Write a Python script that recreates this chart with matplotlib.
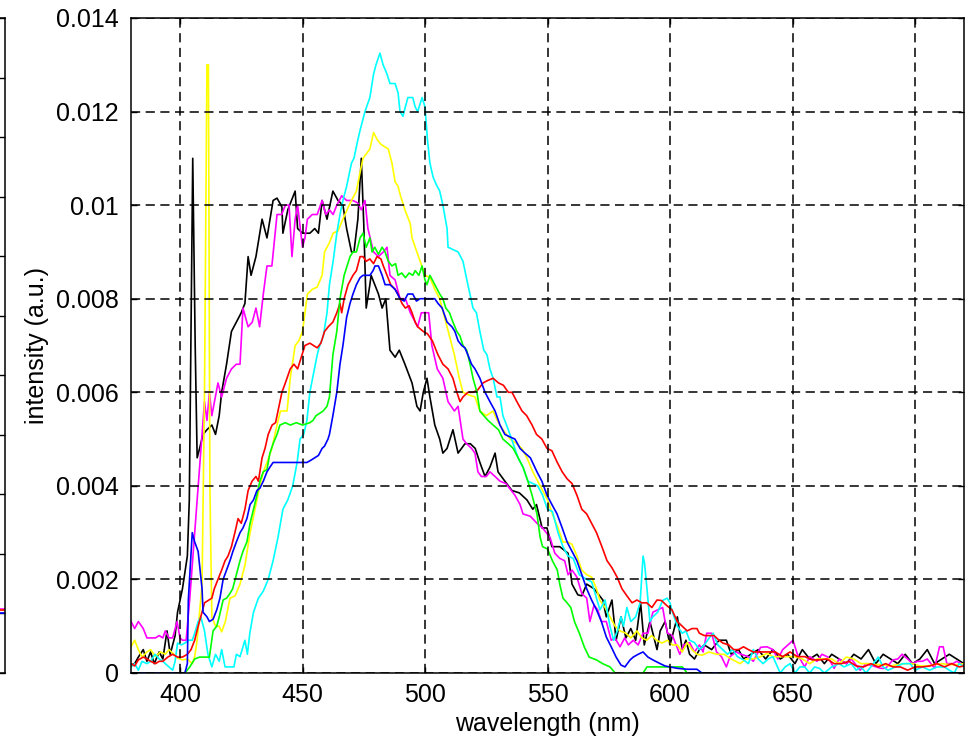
import numpy as np
import matplotlib
matplotlib.use("Agg")
import matplotlib.pyplot as plt

plt.rcParams["font.family"] = ["Liberation Sans", "DejaVu Sans"]

# ------------------------------------------------------------------
# Spectra (wavelength in nm, intensity in 1e-3 a.u.)
# ------------------------------------------------------------------
black_nm = [380, 381.5, 383, 385, 386.5, 388, 389.5, 391.5, 393, 394.7, 396, 398, 399, 401, 403,
            403.8, 405.2, 406.2, 407, 408, 409.4, 411, 413, 414.5, 416, 417, 419, 421, 423, 425,
            426.5, 427.8, 429, 431, 433.5, 435.5, 438, 439.6, 441.6, 442, 444, 447, 448, 450, 453,
            455, 456.5, 458, 460, 462.4, 464.5, 466.5, 468, 470, 471, 472.6, 474, 475, 476, 477.5,
            478, 481, 482.5, 484, 485.7, 487.8, 489.5, 491.8, 494.7, 496.7, 498, 499.3, 500.8,
            502, 504, 506, 507.3, 509, 511.4, 513.5, 516.3, 518.5, 520.5, 522.4, 524.5, 526.5,
            528.6, 529.8, 532.6, 535.5, 538.5, 541.6, 544, 545.5, 547.8, 549.8, 551.8, 555,
            558.4, 560, 562.4, 564, 566, 569, 572.6, 574, 576.3, 578, 580, 582, 584, 586, 588,
            589.5, 591.8, 594.7, 596, 598, 600, 603, 605, 606.5, 608, 610, 612, 614, 617, 620,
            623, 625, 628, 630, 633, 636, 639, 642, 645, 648, 651, 654, 657, 660, 663, 666, 669,
            672, 675, 678, 681, 684, 687, 690, 693, 696, 699, 702, 705, 708, 711, 714, 717, 720]
black_int = [0.17, 0.2, 0.34, 0.5, 0.25, 0.45, 0.2, 0.45, 0.3, 0.9, 0.4, 0.8, 1.3, 1.8, 2.5,
             3.7, 11.0, 7.0, 4.6, 4.8, 5.1, 5.2, 5.3, 5.1, 5.5, 6.0, 6.6, 7.3, 7.5, 7.7,
             7.9, 8.9, 8.5, 8.9, 9.7, 9.3, 10.1, 10.15, 9.96, 9.4, 9.9, 10.3, 9.5, 9.4, 9.4,
             9.5, 9.4, 10.1, 9.7, 10.3, 10.1, 10.0, 9.5, 9.0, 9.0, 9.7, 11.0, 9.6, 7.8, 8.3,
             8.5, 8.1, 7.8, 8.0, 6.9, 6.75, 6.9, 6.6, 6.2, 5.7, 5.6, 6.0, 6.3,
             5.9, 5.3, 5.0, 4.7, 4.8, 5.2, 4.7, 4.9, 4.9, 4.8, 4.5, 4.2, 4.4,
             4.7, 4.3, 4.1, 3.9, 3.85, 3.7, 3.5, 3.6, 3.1, 3.1, 2.7, 2.7,
             2.56, 1.9, 1.67, 1.65, 1.9, 1.8, 1.56, 1.2, 1.56, 0.7, 1.2, 0.75, 0.95, 0.7, 1.5,
             0.6, 1.1, 0.5, 0.9, 1.1, 0.6, 1.2, 0.5, 0.7, 0.4, 0.3, 0.5, 0.6, 0.5, 0.7,
             0.7, 0.4, 0.5, 0.3, 0.4, 0.5, 0.3, 0.5, 0.3, 0.4, 0.2, 0.5, 0.3, 0.4, 0.2, 0.4, 0.3,
             0.2, 0.4, 0.3, 0.5, 0.2, 0.4, 0.3, 0.2, 0.4, 0.2, 0.3, 0.5, 0.2, 0.3, 0.4, 0.3, 0.2]

magenta_nm = [380, 381.5, 383, 385, 386.5, 388, 390, 391.5, 393, 394, 395.5, 397, 398.8, 400, 401,
              402.5, 404, 406, 408, 410, 411, 412, 413, 415.5, 417, 419, 421, 423, 424.5, 425.7,
              427.8, 429.5, 431, 432.5, 434, 435.5, 437.5, 439.6, 441.5, 443, 444.5, 445.7, 447,
              448, 450, 451, 452, 454, 456, 458, 459.5, 461, 462.5, 464, 466, 468, 470.5, 472.5,
              474, 475.5, 476.7, 479, 481, 483, 484.5, 485.7, 487.8, 489.8, 492, 494, 496, 497,
              498.5, 500, 501.5, 502.8, 505, 507.3, 509.4, 512, 513.5, 515.5, 517, 519, 520.4,
              521.6, 523, 525, 526.5, 528.6, 530.6, 533, 536.7, 538.8, 540, 543, 545.7, 548, 551,
              553, 555, 557, 558.4, 560, 562, 564, 566, 567.3, 569, 570.5, 572, 574, 576, 577.5,
              579.6, 581.5, 583, 585, 587, 589, 591, 593, 595, 597, 598, 599, 601, 604, 605.5,
              608, 610, 612, 613.5, 615, 617, 619, 621, 623, 624.5, 627, 629, 632, 634, 637,
              639.6, 642, 644, 646, 649, 650.2, 652, 655, 657, 660, 662, 664.5, 667, 669, 672,
              674, 677.6, 680, 683, 686, 688, 691, 693, 694.7, 697, 699, 701, 703, 705, 708, 710,
              711.5, 713, 715.5, 717, 719, 720]
magenta_int = [1.1, 0.95, 1.1, 0.95, 0.75, 0.75, 0.75, 0.8, 0.75, 0.9, 0.75, 0.75, 1.1, 0.75, 0.7,
               0.7, 1.6, 3.0, 4.4, 5.8, 5.4, 6.0, 5.5, 6.2, 5.9, 6.3, 6.5, 6.6, 6.6, 7.8,
               7.4, 7.5, 7.8, 7.4, 8.1, 8.7, 8.7, 9.8, 9.8, 10.0, 10.0, 8.9, 9.7,
               10.0, 9.1, 9.3, 9.7, 9.8, 9.8, 10.1, 9.8, 9.9, 9.8, 10.0, 10.2, 10.1, 10.1, 10.05,
               9.9, 10.1, 9.5, 9.0, 8.9, 9.0, 9.1, 8.5, 8.4, 8.0, 8.0, 7.7, 7.5, 7.4,
               7.7, 7.7, 7.7, 7.0, 6.5, 6.3, 5.8, 5.6, 5.7, 5.0, 4.9, 4.8, 4.7,
               4.3, 4.2, 4.2, 4.3, 4.2, 4.1, 4.05, 3.8, 3.6, 3.4, 3.35, 3.2, 3.1, 2.9,
               2.56, 2.45, 2.4, 2.1, 2.2, 2.05, 1.7, 1.6, 1.1, 1.45, 1.35, 1.1, 1.1, 0.7, 0.75,
               0.56, 0.75, 0.6, 0.7, 0.6, 0.85, 0.85, 1.3, 1.35, 1.4, 1.1, 0.85, 0.8, 0.4, 0.6,
               0.65, 0.45, 0.6, 0.45, 0.85, 0.85, 0.45, 0.35, 0.13, 0.35, 0.45, 0.4, 0.35, 0.25, 0.55,
               0.56, 0.5, 0.3, 0.5, 0.64, 0.7, 0.4, 0.13, 0.35, 0.25, 0.4, 0.34, 0.1, 0.3, 0.2,
               0.3, 0.06, 0.2, 0.15, 0.1, 0.1, 0.28, 0.3, 0.4, 0.3, 0.2, 0.25, 0.25, 0.3, 0.1, 0.56,
               0.56, 0.2, 0.2, 0.25, 0.2, 0.15]

yellow_nm = [380, 381.5, 383, 384.5, 386.5, 388, 390, 392, 394, 395.5, 397.5, 399, 401, 403, 405,
             406, 407, 409, 410, 411, 411.6, 412.2, 413, 414.5, 416, 417, 418.5, 420.4, 422.5,
             424.5, 426.5, 428.6, 430.6, 432.6, 434, 435.5, 437.5, 439.6, 441, 443.7, 445, 447,
             448.5, 450, 452, 454, 456, 458, 459, 461, 462.5, 464.5, 466.5, 468.6, 470, 472,
             473.5, 474.7, 477.5, 479, 480.5, 482, 483.5, 485, 486.5, 487.8, 489, 490, 491.8, 494,
             494.7, 496.7, 498, 500, 502, 504, 506, 508, 510, 512, 514, 515.5, 517.5, 520.4,
             522.4, 525, 527.8, 529.5, 531.8, 534.7, 537.5, 539.5, 541.6, 544, 546, 548, 550, 552,
             554.3, 556.3, 558.4, 560, 562, 564, 566, 568, 570, 571.4, 573.5, 575.5, 577.6, 579.6,
             582, 584, 586.5, 588.5, 590.5, 592.5, 594.5, 596.7, 599, 601, 603, 605, 607, 609,
             611, 613, 616, 619, 622, 625, 628.6, 631, 634, 637, 639.6, 642, 645, 648, 651, 654,
             657, 660, 663, 666, 669, 672, 675, 678, 681, 684, 687, 690, 693, 696, 699, 702, 705,
             708, 711, 714, 717, 720]
yellow_int = [0.56, 0.7, 0.5, 0.34, 0.45, 0.5, 0.35, 0.45, 0.4, 0.5, 0.4, 0.32, 0.28, 0.3, 0.2,
              0.35, 0.7, 1.9, 6.0, 13.0, 13.0, 4.0, 1.2, 1.0, 1.0, 0.88, 1.1, 1.6, 1.65,
              1.9, 2.3, 3.0, 3.5, 4.0, 4.3, 4.5, 4.8, 5.3, 5.6, 5.6, 6.3, 7.0,
              7.1, 7.3, 8.1, 8.2, 8.25, 8.5, 9.0, 9.2, 9.4, 9.45, 9.7, 9.95, 10.1, 10.3,
              10.7, 11.0, 11.2, 11.55, 11.4, 11.3, 11.25, 11.2, 10.9, 10.5, 10.4, 10.2, 9.9, 9.6,
              9.3, 9.0, 8.8, 8.5, 8.45, 8.2, 8.0, 7.6, 7.2, 6.8, 6.3, 6.0, 5.95, 5.9,
              5.6, 5.5, 5.6, 5.4, 5.2, 5.0, 4.9, 4.8, 4.6, 4.3, 4.1, 3.9, 3.7, 3.4,
              3.1, 2.8, 2.8, 2.75, 2.5, 2.2, 2.1, 2.05, 1.8, 1.55, 1.4, 1.2, 1.0, 0.9,
              0.85, 0.75, 0.9, 0.75, 0.7, 0.8, 0.7, 0.64, 0.7, 0.6, 0.6, 0.45, 0.65, 0.5,
              0.4, 0.38, 0.45, 0.4, 0.4, 0.3, 0.2, 0.3, 0.3, 0.35, 0.42, 0.35, 0.35, 0.35, 0.35, 0.3,
              0.2, 0.3, 0.3, 0.3, 0.2, 0.34, 0.3, 0.2, 0.2, 0.18, 0.18, 0.15, 0.18, 0.2, 0.2, 0.15, 0.15,
              0.18, 0.2, 0.18, 0.18, 0.2]

cyan_nm = [380, 381.5, 383, 384.5, 386.5, 388, 389.8, 391.5, 393, 394, 395.5, 397, 398, 399, 400.5,
           402, 403.5, 405, 406, 407.4, 408.5, 410, 411.4, 413, 414.5, 416, 417, 418.4, 420, 422,
           423, 424.5, 426.5, 427.5, 428.5, 430, 432, 434, 436, 438, 440, 442, 444, 446, 447.8,
           449, 450.5, 451.8, 453, 454.5, 456, 457, 458.5, 460, 461, 462.5, 464, 465.3, 466.5,
           468, 470, 471, 472.6, 473.5, 475.5, 477.5, 479, 480, 481.6, 482.9, 484.5, 485.7,
           487.8, 489, 489.8, 491, 492, 493, 495, 496, 497, 498.8, 500, 501, 502, 503.3, 504.5,
           506, 507.3, 509, 509.4, 511.5, 513.5, 515.5, 517.5, 519.6, 521, 522.4, 524, 525.3,
           526.5, 527.8, 529.4, 530.6, 531.8, 534, 536, 538, 540, 542, 544, 546, 548, 550, 552,
           554.3, 556.3, 558.4, 560.5, 563, 566, 568, 570, 571.4, 573.5, 575.5, 577, 578.5, 580,
           581, 582.4, 584, 586, 587.8, 589, 589.6, 590.6, 591.8, 593, 595, 597, 598.8, 600, 601,
           603, 605, 606.5, 608, 610, 612, 614, 616.3, 617.6, 619.5, 621.5, 623.5, 625.5, 627.5,
           630, 632, 634, 636, 638, 640, 642, 645, 647, 649, 651, 653, 655, 657, 659, 661, 663,
           666, 669, 671, 674, 676, 678, 680, 683, 685, 687, 689, 692, 695, 698, 700, 703, 706,
           709, 712, 714, 716, 718, 720]
cyan_int = [0.13, 0.2, 0.06, 0.25, 0.2, 0.25, 0.4, 0.3, 0.25, 0.2, 0.13, 0.06, 0.25, 0.64, 0.6,
            0.64, 0.7, 0.7, 0.85, 1.1, 1.2, 0.9, 0.4, 0.13, 0.4, 0.25, 0.5, 0.13, 0.13, 0.13,
            0.4, 0.35, 0.7, 0.4, 0.85, 1.3, 1.6, 1.75, 2.0, 2.4, 2.9, 3.5, 3.7, 4.0, 4.5,
            5.0, 5.1, 5.4, 6.0, 6.4, 6.8, 7.0, 7.2, 7.7, 8.3, 8.8, 9.4, 9.8, 10.1,
            10.4, 10.9, 11.0, 11.4, 11.6, 12.0, 12.3, 12.8, 13.0, 13.25, 13.0, 12.8, 12.6,
            12.6, 12.4, 12.0, 11.9, 12.1, 12.3, 12.3, 12.1, 12.0, 12.3, 12.1, 11.4, 10.9, 10.6, 10.45,
            10.3, 10.0, 9.5, 9.1, 9.05, 9.0, 8.8, 8.3, 7.8, 7.7, 7.3, 6.9, 6.8,
            6.5, 6.3, 5.9, 5.9, 5.5, 5.2, 4.9, 4.6, 4.4, 4.1, 4.05, 4.0, 3.8, 3.5, 3.45,
            3.0, 2.7, 2.5, 2.45, 2.1, 2.0, 1.95, 1.6, 1.35, 1.56, 1.0, 0.7, 0.9, 1.2,
            1.0, 1.4, 1.1, 1.2, 1.5, 2.5, 2.35, 1.8, 1.1, 1.2, 1.3, 1.55, 1.6, 1.5, 1.3,
            1.0, 0.85, 0.9, 0.7, 0.65, 0.5, 0.6, 0.77, 0.85, 0.6, 0.5, 0.4, 0.5, 0.35,
            0.28, 0.2, 0.5, 0.3, 0.2, 0.3, 0.35, 0.0, 0.13, 0.2, 0.0, 0.13, 0.13, 0.0, 0.13, 0.1, 0.0,
            0.13, 0.2, 0.13, 0.2, 0.06, 0.13, 0.0, 0.2, 0.34, 0.13, 0.06, 0.13, 0.2, 0.2, 0.06, 0.13, 0.06,
            0.13, 0.13, 0.06, 0.0, 0.2, 0.13]

red_nm = [380, 381.5, 383, 385, 386.5, 388, 390, 391.5, 393, 395, 397, 399, 401, 403, 404.5, 406,
          407.4, 409, 410, 411.5, 413, 414, 415.5, 417, 418.4, 419.6, 421, 422.4, 423.7, 425,
          426.5, 427.8, 429.4, 431, 432, 433.5, 434.7, 436, 437.6, 439, 440, 441.6, 443, 445,
          446.5, 448, 449.8, 451, 453, 454.5, 456, 457.5, 459, 460.5, 462.4, 464, 465.3, 466,
          467, 468.6, 470.6, 472, 473.5, 474.7, 476, 477.5, 479, 480.4, 482, 483, 484.5, 486,
          487.8, 489, 490.6, 492, 493.5, 494.7, 496, 497, 499.3, 501, 503, 505.3, 507.3, 509.4,
          511.4, 513, 514.3, 515.5, 517.5, 519.6, 521.5, 523.7, 525.5, 527.8, 530, 532, 534,
          535.5, 537.5, 539.6, 541.5, 543.7, 545.5, 547.7, 549.8, 551.8, 554, 556, 558, 560,
          562, 564, 566, 568, 570, 572.2, 574.3, 576.3, 578.4, 580.4, 582.4, 584.5, 586.5,
          588.5, 590.5, 592.6, 594.7, 596.5, 598.5, 600.8, 603, 605, 607, 609, 611, 612, 614,
          616, 618, 620, 621.6, 624, 626, 628, 630, 632, 634, 637, 640, 643, 646, 649, 652, 655,
          658, 661, 664, 667, 670, 673, 676, 679, 682, 685, 688, 691, 694, 697, 700, 703, 706,
          709, 712, 715, 718, 720]
red_int = [0.2, 0.15, 0.28, 0.34, 0.3, 0.25, 0.2, 0.25, 0.25, 0.34, 0.4, 0.34, 0.34, 0.4, 0.5, 0.7,
           1.0, 1.3, 1.5, 1.55, 1.6, 1.8, 2.0, 2.2, 2.4, 2.5, 2.7, 3.0, 3.3, 3.2,
           3.5, 3.9, 4.1, 4.2, 4.1, 4.6, 4.8, 5.1, 5.3, 5.35, 5.6, 6.0, 6.2, 6.5,
           6.6, 6.5, 6.8, 7.0, 7.05, 7.0, 6.95, 7.05, 7.3, 7.4, 7.5, 7.7, 7.9, 7.7,
           8.0, 8.3, 8.5, 8.6, 8.9, 8.9, 8.8, 8.85, 8.75, 8.9, 8.85, 8.7, 8.5, 8.3,
           8.2, 8.1, 7.9, 7.8, 7.85, 7.7, 7.5, 7.4, 7.3, 7.25, 7.1, 6.8, 6.6, 6.5,
           6.3, 6.0, 5.8, 5.9, 6.0, 6.0, 6.05, 6.2, 6.25, 6.3, 6.2, 6.15, 6.0,
           6.0, 5.8, 5.6, 5.5, 5.3, 5.1, 5.0, 4.8, 4.75, 4.5, 4.3, 4.15, 4.05,
           3.8, 3.5, 3.4, 3.2, 3.0, 2.7, 2.4, 2.25, 2.05, 1.8, 1.65, 1.5, 1.56,
           1.5, 1.5, 1.4, 1.56, 1.55, 1.45, 1.35, 1.1, 1.0, 0.9, 0.95, 0.95, 0.85, 0.8,
           0.8, 0.8, 0.7, 0.64, 0.6, 0.5, 0.5, 0.56, 0.5, 0.45, 0.45, 0.45, 0.45, 0.35, 0.45, 0.35, 0.35,
           0.28, 0.28, 0.3, 0.2, 0.2, 0.25, 0.15, 0.13, 0.2, 0.13, 0.2, 0.13, 0.13, 0.06, 0.13, 0.13, 0.15,
           0.2, 0.13, 0.2, 0.13, 0.15]

green_nm = [380, 402, 404, 406, 408, 410, 412, 413.5, 415, 416, 417.6, 419, 420.4, 421.5, 423,
            424.5, 425.7, 427.3, 428.6, 430, 431.4, 432.6, 434, 435.5, 436.7, 438, 439.6, 440.8,
            443, 445, 447.5, 450, 453, 454.3, 455.5, 457, 458.4, 460, 461, 462.4, 464, 465.3, 467,
            469.4, 470.6, 472, 473.5, 474.7, 476, 477.5, 478.4, 479.5, 481, 482.5, 483.7, 485,
            486.5, 488, 489, 490.5, 492, 493.5, 495, 496, 497.5, 498.8, 500, 500.8, 502, 503.5,
            505, 506, 507.3, 508.5, 510, 511.4, 513, 514.3, 515.5, 517, 518.4, 519.6, 521.2,
            522.4, 524, 525.7, 527.8, 530, 531.8, 534, 536, 538, 540, 542, 543.7, 545.7, 547,
            548, 550, 552, 554, 555, 556.3, 558, 559.5, 561, 563, 565, 567, 570, 572.5, 575.5,
            577.6, 589, 590.6, 605, 607, 720]
green_int = [0.0, 0.0, 0.13, 0.3, 0.34, 0.34, 0.34, 0.9, 1.0, 1.2, 1.56, 1.6, 1.7, 1.8, 2.1,
             2.4, 2.6, 2.8, 3.2, 3.5, 3.8, 4.1, 4.3, 4.35, 4.7, 4.9, 5.1, 5.3,
             5.35, 5.3, 5.35, 5.3, 5.35, 5.4, 5.5, 5.55, 5.6, 5.7, 5.9, 6.8, 7.3, 8.0, 8.5,
             8.9, 9.0, 9.0, 9.3, 9.4, 9.1, 9.3, 9.0, 9.1, 8.95, 9.1, 9.0, 8.8,
             8.7, 8.75, 8.5, 8.55, 8.45, 8.55, 8.5, 8.6, 8.5, 8.7, 8.4, 8.3, 8.5, 8.35,
             8.2, 8.1, 8.0, 7.8, 7.7, 7.5, 7.3, 7.2, 7.0, 6.9, 6.6, 6.3, 6.0,
             5.6, 5.5, 5.4, 5.3, 5.2, 5.0, 4.9, 4.8, 4.6, 4.4, 4.1, 3.8, 3.4, 2.9,
             2.7, 2.65, 2.4, 2.2, 1.9, 1.6, 1.5, 1.4, 1.1, 0.85, 0.56, 0.34, 0.28, 0.2, 0.13,
             0.0, 0.0, 0.13, 0.13, 0.0, 0.0]

blue_nm = [380, 402, 403, 403.4, 405, 406, 407.4, 409, 409.4, 411, 412, 413.5, 415, 416.3, 417.6,
           419, 420.4, 421.6, 423, 424.5, 425.7, 427.3, 428.6, 430, 431.4, 432.6, 434, 435.5,
           436.7, 438, 442, 446, 449, 451.8, 453.5, 455, 456.5, 458, 459, 460.4, 461, 462.4, 464,
           465.3, 466.5, 468, 469.4, 470.6, 472, 473.5, 474.7, 476, 477.5, 478.8, 479.6, 481,
           482.5, 483.7, 485.7, 487.8, 489.8, 491.5, 493, 494, 495, 496.5, 498, 500, 502, 504,
           505.3, 507, 509, 511, 512.2, 513.5, 515, 516.3, 517.5, 519, 520.4, 522.4, 524.5,
           526.5, 528.6, 530.6, 532.6, 534.5, 536.7, 538.8, 540.8, 543, 545.7, 547.7, 549.8,
           551.8, 553.9, 556, 558, 560, 562, 564, 566, 568, 570, 572, 574, 576, 578, 580, 581.6,
           583.7, 585, 587, 589, 591, 593, 596, 598, 600, 603, 607, 611, 613, 720]
blue_int = [0.0, 0.0, 0.2, 1.56, 3.0, 2.8, 2.6, 1.8, 1.3, 1.2, 1.1, 1.15, 1.35, 1.6, 2.0,
            2.2, 2.4, 2.6, 2.8, 3.0, 3.1, 3.3, 3.6, 3.7, 3.9, 3.95, 4.1, 4.3,
            4.4, 4.5, 4.5, 4.5, 4.5, 4.5, 4.55, 4.6, 4.65, 4.8, 4.85, 5.0, 5.1, 5.5, 6.0,
            6.6, 7.0, 7.6, 7.9, 8.1, 8.3, 8.45, 8.5, 8.5, 8.5, 8.6, 8.7, 8.7,
            8.5, 8.3, 8.3, 8.2, 8.0, 7.95, 8.1, 8.1, 8.1, 7.95, 8.0, 8.0, 8.0, 8.0,
            7.9, 7.8, 7.5, 7.4, 7.3, 7.1, 7.0, 6.95, 6.8, 6.6, 6.5, 6.3, 6.0,
            5.8, 5.6, 5.3, 5.1, 5.05, 5.0, 4.8, 4.7, 4.6, 4.3, 4.1, 3.8,
            3.6, 3.4, 3.1, 2.8, 2.6, 2.4, 2.1, 1.8, 1.56, 1.35, 1.1, 0.77, 0.56, 0.34, 0.17, 0.13,
            0.28, 0.34, 0.4, 0.45, 0.34, 0.28, 0.2, 0.15, 0.13, 0.1, 0.08, 0.08, 0.0, 0.0]

# cropped neighbouring panel on the far left: only its right edge shows
left_panel_x = [0.97, 1.0]
left_panel_levels = {"m": 1.07, "y": 1.06, "r": 1.05, "b": 1.0}

series = [
    (black_nm, black_int, "k"),
    (magenta_nm, magenta_int, "m"),
    (yellow_nm, yellow_int, "y"),
    (cyan_nm, cyan_int, "c"),
    (red_nm, red_int, "r"),
    (green_nm, green_int, "g"),
    (blue_nm, blue_int, "b"),
]
matlab_colors = {"k": "#000000", "m": "#ff00ff", "y": "#ffff00", "c": "#00ffff",
                 "r": "#ff0000", "g": "#00ff00", "b": "#0000ff"}

x_ticks = [400, 450, 500, 550, 600, 650, 700]
y_ticks = [0, 0.002, 0.004, 0.006, 0.008, 0.01, 0.012, 0.014]
y_tick_labels = ["0", "0.002", "0.004", "0.006", "0.008", "0.01", "0.012", "0.014"]

fig = plt.figure(figsize=(9.76, 7.46), dpi=100)
fig.patch.set_facecolor("white")

ax_left, ax_bottom, ax_w, ax_h = 131 / 976, 1 - 673 / 746, (964 - 131) / 976, (673 - 18) / 746


def _style_box(ax):
    for spine in ax.spines.values():
        spine.set_linewidth(1.1)
        spine.set_color("black")
    ax.tick_params(which="both", direction="in", length=4, width=1.0,
                   top=True, right=True, colors="black", labelsize=18)


# partial panel, mostly outside the canvas
side = fig.add_axes([-0.6, ax_bottom, 0.6 + 4.5 / 976, ax_h])
side.set_xlim(0, 1)
side.set_ylim(0, 11)
side.set_yticks(range(12))
side.set_xticks([])
for key, level in left_panel_levels.items():
    side.plot(left_panel_x, [level, level], color=matlab_colors[key], lw=1.2)
_style_box(side)
side.tick_params(labelleft=False, labelright=False)

ax = fig.add_axes([ax_left, ax_bottom, ax_w, ax_h])
for nm, val, key in series:
    ax.plot(nm, np.array(val) * 1e-3, color=matlab_colors[key], lw=1.2)

ax.set_xlim(380, 720)
ax.set_ylim(0, 0.014)
ax.set_xticks(x_ticks)
ax.set_xticklabels([str(t) for t in x_ticks])
ax.set_yticks(y_ticks)
ax.set_yticklabels(y_tick_labels)
ax.grid(True, color="black", linewidth=1.1, linestyle=(0, (6, 3.6)))
ax.set_axisbelow(False)
_style_box(ax)
ax.tick_params(axis="y", pad=9)
ax.tick_params(axis="x", pad=7)

ax.set_xlabel("wavelength (nm)", fontsize=18, labelpad=4)
ax.set_ylabel("intensity (a.u.)", fontsize=18, labelpad=5)

fig.savefig("out.png", dpi=100)
